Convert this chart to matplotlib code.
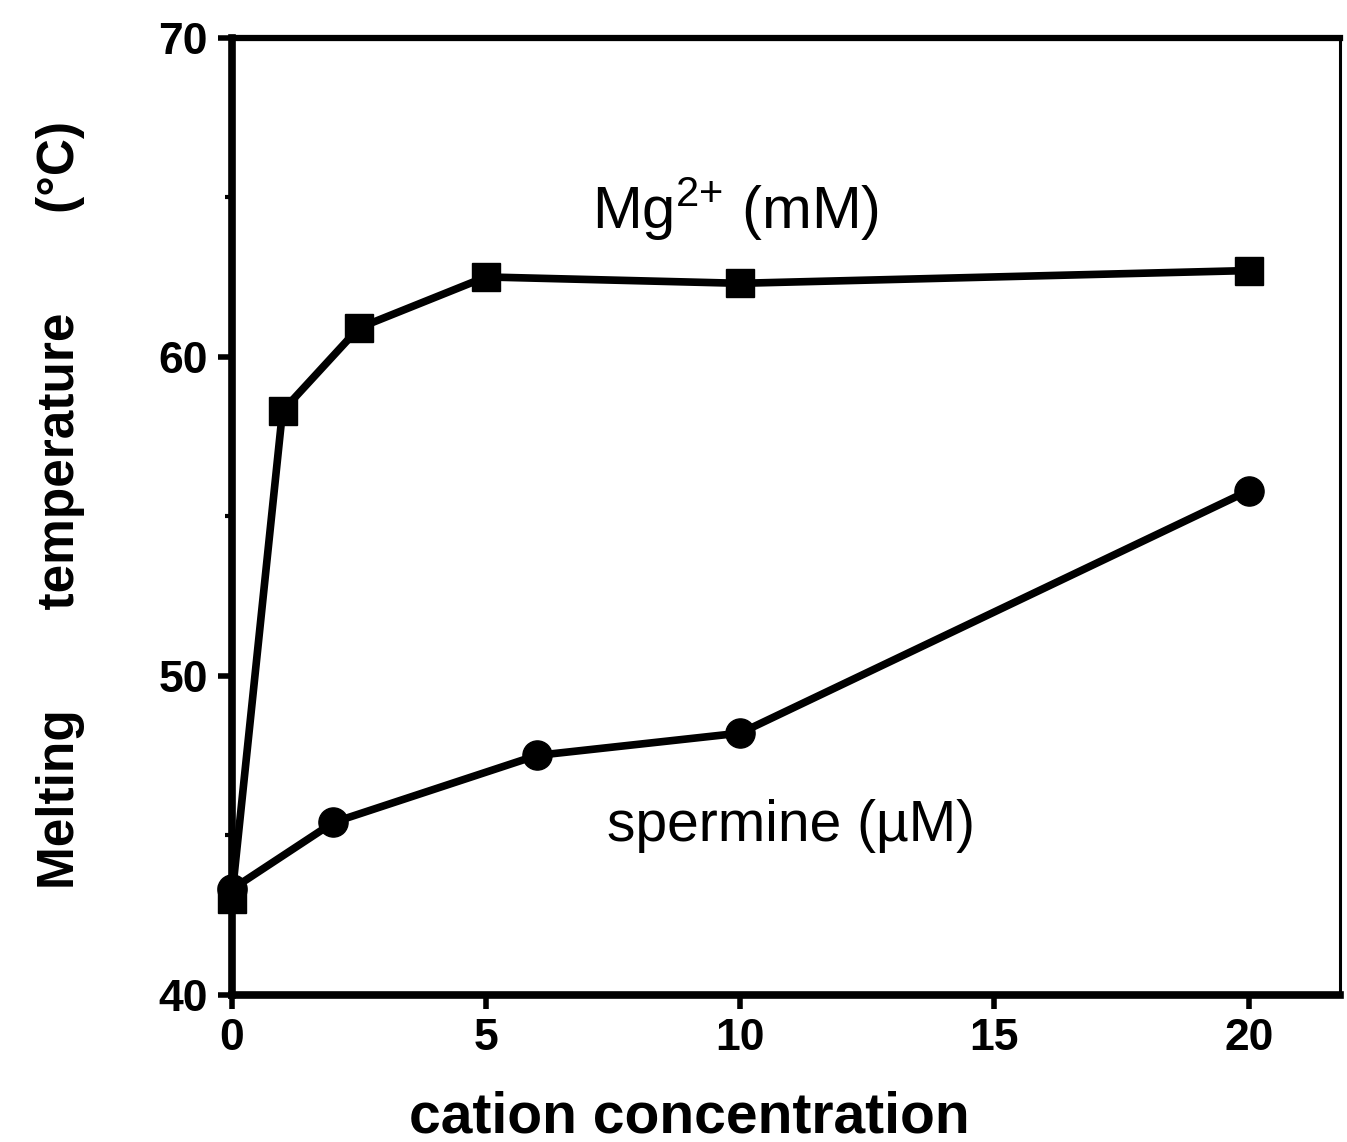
import matplotlib.pyplot as plt
from matplotlib.ticker import MultipleLocator

# values
mg_conc = [0, 1, 2.5, 5, 10, 20]            # mM
mg_tm = [43.0, 58.3, 60.9, 62.5, 62.3, 62.7]

spermine_conc = [0, 2, 6, 10, 20]           # uM
spermine_tm = [43.3, 45.4, 47.5, 48.2, 55.8]

x_ticks = [0, 5, 10, 15, 20]
y_ticks = [40, 50, 60, 70]

plt.rcParams["font.family"] = ["Liberation Sans", "DejaVu Sans"]
plt.rcParams["mathtext.fontset"] = "custom"
plt.rcParams["mathtext.rm"] = "Liberation Sans"

fig = plt.figure(figsize=(13.47, 11.42), dpi=100)
ax = fig.add_axes([0.172, 0.129, 0.823, 0.838])

ax.plot(mg_conc, mg_tm, color="black", linewidth=5.5, marker="s",
        markersize=20, clip_on=False, zorder=3)
ax.plot(spermine_conc, spermine_tm, color="black", linewidth=5.5, marker="o",
        markersize=21, clip_on=False, zorder=3)

ax.text(9.9, 64.6, r"Mg$\mathregular{^{2{+}}}$ (mM)", fontsize=43,
        ha="center", va="center")
ax.text(11.0, 45.3, "spermine (\u00b5M)", fontsize=41, ha="center", va="center")

ax.set_xlim(0, 21.8)
ax.set_ylim(40, 70)
ax.set_xticks(x_ticks)
ax.set_yticks(y_ticks)
ax.yaxis.set_minor_locator(MultipleLocator(5))

for side in ["left", "bottom"]:
    ax.spines[side].set_linewidth(5.5)
ax.spines["top"].set_linewidth(4.5)
ax.spines["right"].set_linewidth(2.2)

ax.tick_params(axis="both", which="major", direction="out", length=10,
               width=4, labelsize=32, pad=7)
ax.tick_params(axis="y", which="minor", direction="out", length=5, width=3)
for lbl in ax.get_xticklabels() + ax.get_yticklabels():
    lbl.set_fontweight("bold")

ax.set_xlabel("cation concentration", fontsize=41, fontweight="bold")
ax.xaxis.set_label_coords(0.413, -0.1)
ax.set_ylabel("Melting       temperature       (\u00b0C)", fontsize=37,
              fontweight="bold")
ax.yaxis.set_label_coords(-0.132, 0.512)

fig.savefig("out.png", dpi=100)
